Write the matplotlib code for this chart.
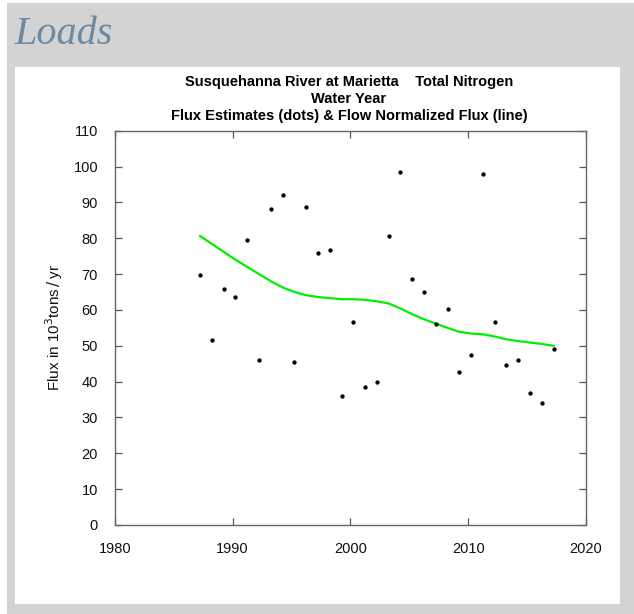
import numpy as np
import matplotlib.pyplot as plt
from matplotlib.patches import Rectangle

# water years and values (10^3 tons/yr)
years = np.arange(1987, 2018)
flux = [69.7, 51.7, 65.9, 63.5, 79.4, 46.1, 88.1, 92.0, 45.6, 88.8,
        75.8, 76.7, 36.1, 56.7, 38.5, 40.0, 80.7, 98.4, 68.5, 65.1,
        56.2, 60.2, 42.8, 47.3, 97.8, 56.5, 44.7, 45.9, 36.9, 33.9, 49.1]
fn_flux = [80.6, 78.4, 76.2, 74.0, 72.0, 70.0, 68.0, 66.3, 65.0, 64.1,
           63.6, 63.3, 63.0, 63.0, 62.8, 62.4, 61.8, 60.4, 58.8, 57.4,
           56.2, 55.0, 53.9, 53.4, 53.2, 52.6, 51.8, 51.3, 50.9, 50.5, 50.0]
xticks = [1980, 1990, 2000, 2010, 2020]
yticks = list(range(0, 111, 10))

W, H = 634, 614
plt.rcParams['font.family'] = ['Liberation Sans', 'DejaVu Sans']

fig = plt.figure(figsize=(W / 100, H / 100), dpi=100)
fig.patch.set_facecolor('white')

def px_rect(x0, y0, x1, y1, color):
    fig.patches.append(Rectangle((x0 / W, 1 - y1 / H), (x1 - x0) / W, (y1 - y0) / H,
                                 transform=fig.transFigure, facecolor=color,
                                 edgecolor='none', zorder=-5))

# page background and white panel
px_rect(7, 3, W, H, '#d3d3d3')
px_rect(15, 67, 620, 604, 'white')

fig.text(14 / W, 1 - 44 / H, 'Loads', family=['Liberation Serif', 'DejaVu Serif'],
         style='italic', fontsize=29, color='#6d8aa0', ha='left', va='baseline')

left, right, top, bottom = 114.7, 586, 130.7, 525
ax = fig.add_axes([left / W, 1 - bottom / H, (right - left) / W, (bottom - top) / H])
ax.set_zorder(2)
ax.set_facecolor('white')

# time placed at mid water year
xs = years + 0.25
ax.plot(xs, fn_flux, color='#00f000', lw=1.6, zorder=2)
ax.plot(xs, flux, 'o', color='black', markersize=2.1, zorder=3)

ax.set_xlim(1980, 2020)
ax.set_ylim(0, 110)
ax.set_xticks(xticks)
ax.set_yticks(yticks)
ax.tick_params(direction='in', length=5, width=0.9, color='#555555',
               top=True, right=True, labelsize=10.5, labelcolor='#111111')
ax.tick_params(axis='x', pad=12)
ax.tick_params(axis='y', pad=12)
for s in ax.spines.values():
    s.set_color('#666666')
    s.set_linewidth(1.0)

ax.set_ylabel('Flux in 10$^3$tons$\\,/\\,$yr', fontsize=11, color='#111111', labelpad=6)

fig.text(349 / W, 1 - 75 / H,
         'Susquehanna River at Marietta    Total Nitrogen\nWater Year\n'
         'Flux Estimates (dots) & Flow Normalized Flux (line)',
         ha='center', va='top', fontsize=10.5, fontweight='bold',
         linespacing=1.27, color='black', zorder=5)

fig.savefig('out.png', dpi=100)
